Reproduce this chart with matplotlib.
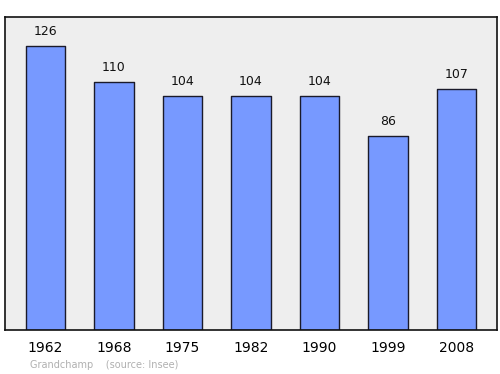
import matplotlib
matplotlib.use("Agg")
import matplotlib.pyplot as plt

years = ["1962", "1968", "1975", "1982", "1990", "1999", "2008"]
population = [126, 110, 104, 104, 104, 86, 107]

fig = plt.figure(figsize=(5, 3.74), dpi=100)
ax = fig.add_axes([5/500, 1-330/374, 492/500, 313/374])
ax.set_facecolor("#eeeeee")
x = list(range(len(years)))
bars = ax.bar(x, population, width=0.57, color="#7799ff", edgecolor="#1a1a2a", linewidth=1.0)
for b in bars:
    b.set_joinstyle("round")
for xi, v in zip(x, population):
    ax.text(xi, v + 3.6, str(v), ha="center", va="bottom", fontsize=9, color="#111111")
ax.set_xlim(-0.591, 6.591)
ax.set_ylim(0, 138.9)
ax.set_yticks([])
ax.set_xticks(x)
ax.set_xticklabels(years, fontsize=10)
ax.tick_params(axis="x", length=0, pad=8)
for s in ax.spines.values():
    s.set_linewidth(1.2)
    s.set_color("#111111")
fig.text(30/500, 1-365/374, "Grandchamp    (source: Insee)", fontsize=7, color="#b0b0b0", va="center")
fig.savefig("out.png", dpi=100)
